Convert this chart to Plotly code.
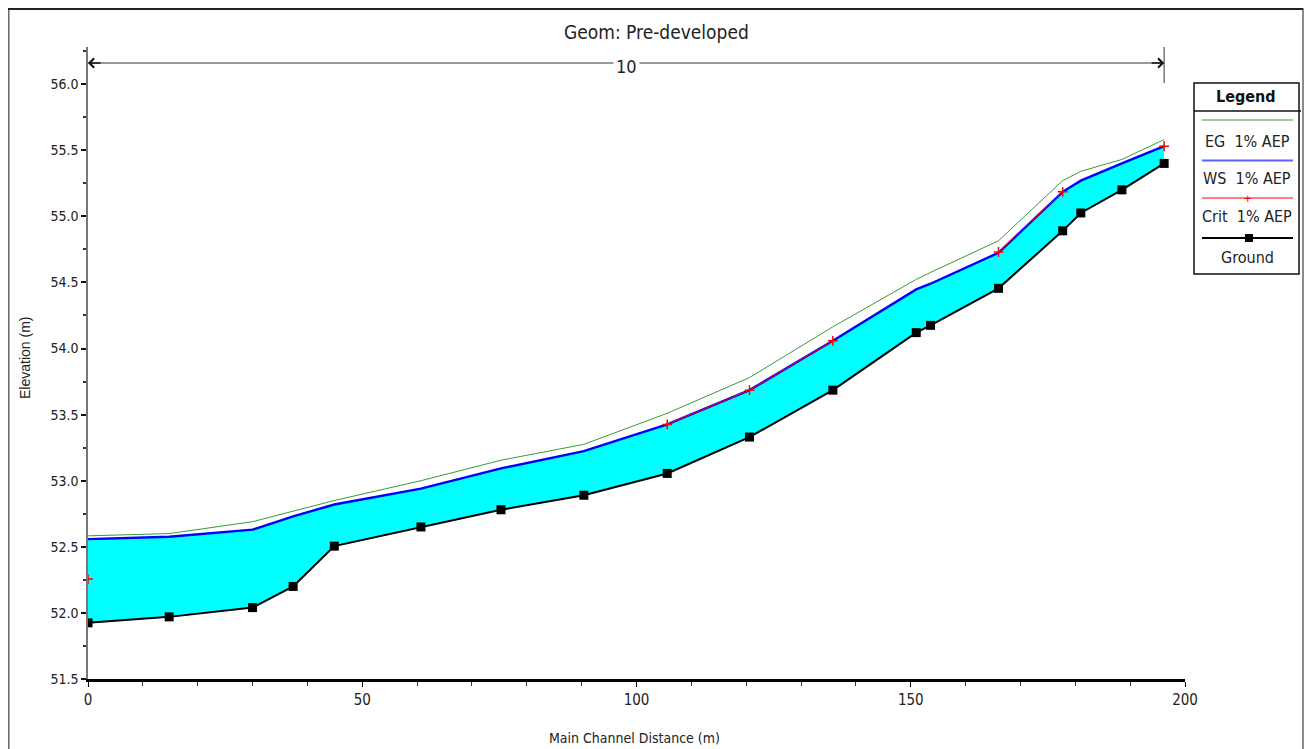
import plotly.graph_objects as go

# ---------------- data ----------------
stations = [0.0, 14.8, 30.0, 37.4, 44.9, 60.7, 75.3, 90.4, 105.6, 120.6,
            135.8, 151.0, 153.6, 166.0, 177.7, 181.0, 188.5, 196.2]
ground = [51.925, 51.97, 52.04, 52.20, 52.505, 52.65, 52.78, 52.89, 53.055, 53.33,
          53.685, 54.12, 54.175, 54.455, 54.89, 55.025, 55.20, 55.40]
ws_1pct = [52.558, 52.576, 52.63, 52.73, 52.82, 52.94, 53.093, 53.224, 53.426, 53.685,
           54.058, 54.447, 54.49, 54.724, 55.185, 55.27, 55.40, 55.53]
eg_1pct = [52.583, 52.60, 52.69, 52.77, 52.85, 53.00, 53.155, 53.275, 53.51, 53.78,
           54.164, 54.523, 54.575, 54.815, 55.27, 55.34, 55.43, 55.58]
crit_1pct = [52.256, None, None, None, None, None, None, None, 53.426, 53.685,
             54.058, None, None, 54.73, 55.185, None, None, 55.53]

title_text = "Geom: Pre-developed"
reach_label = "10"
legend_names = ["EG  1% AEP", "WS  1% AEP", "Crit  1% AEP", "Ground"]
x_title = "Main Channel Distance (m)"
y_title = "Elevation (m)"

# ---------------- layout geometry ----------------
# the page body has an 8px margin; screen px positions are read from the reference
OFF = 8
W, H = 1312 - OFF, 749 - OFF
PL, PR, PT, PB = 88, 1185, 47, 679          # plot area in screen px
X_RANGE = [0, 200]
Y_RANGE = [51.5, 51.5 + (PB - PT) / 132.2]

def px(p):
    return (p - PL) / (PR - PL)

def py(p):
    return (PB - p) / (PB - PT)

FONT = "DejaVu Sans Condensed, Liberation Sans Narrow, Arial Narrow, Liberation Sans, Arial, sans-serif"
FONT_REG = "Liberation Sans, Arial, sans-serif"

fig = go.Figure()

# fill between ground and water surface
fig.add_trace(go.Scatter(x=stations, y=ground, mode="lines",
                         line=dict(width=0, color="rgba(0,0,0,0)"),
                         showlegend=False, hoverinfo="skip"))
fig.add_trace(go.Scatter(x=stations, y=ws_1pct, mode="lines",
                         line=dict(width=0, color="rgba(0,0,0,0)"),
                         fill="tonexty", fillcolor="#00FFFF",
                         showlegend=False, hoverinfo="skip"))
# EG
fig.add_trace(go.Scatter(x=stations, y=eg_1pct, mode="lines",
                         line=dict(width=1, color="#3a9a3a"),
                         name=legend_names[0], showlegend=False))
# WS
fig.add_trace(go.Scatter(x=stations, y=ws_1pct, mode="lines",
                         line=dict(width=2.4, color="#0000FF"),
                         name=legend_names[1], showlegend=False))
# Crit
fig.add_trace(go.Scatter(x=stations, y=crit_1pct, mode="lines+markers",
                         line=dict(width=1, color="#FF0000"),
                         marker=dict(symbol="cross-thin", size=7,
                                     line=dict(width=1.5, color="#FF0000")),
                         connectgaps=False,
                         name=legend_names[2], showlegend=False))
# Ground
fig.add_trace(go.Scatter(x=stations, y=ground, mode="lines+markers",
                         line=dict(width=2, color="#000000"),
                         marker=dict(symbol="square", size=9, color="#000000"),
                         name=legend_names[3], showlegend=False))

shapes = []
annotations = []

def text_at(x, y, text, size=14, font=FONT, color="#222222", **kw):
    d = dict(x=x, y=y, xref="paper", yref="paper", text=text, showarrow=False,
             xanchor="center", yanchor="middle",
             font=dict(family=font, size=size, color=color))
    d.update(kw)
    annotations.append(d)

# outer frame
shapes.append(dict(type="rect", xref="paper", yref="paper",
                   x0=px(8.8), x1=px(1303), y0=py(760), y1=py(9),
                   line=dict(color="#666666", width=1.5)))
shapes.append(dict(type="line", xref="paper", yref="paper",
                   x0=px(8), x1=px(1303), y0=py(9), y1=py(9),
                   line=dict(color="#222222", width=2)))

# reach arrow
y_arrow = py(63)
shapes.append(dict(type="line", xref="x", yref="paper",
                   x0=stations[0], x1=stations[-1], y0=y_arrow, y1=y_arrow,
                   line=dict(color="#777777", width=1.5)))
shapes.append(dict(type="line", xref="x", yref="paper",
                   x0=stations[-1], x1=stations[-1], y0=py(83), y1=py(47),
                   line=dict(color="#555555", width=1.2)))
annotations.append(dict(x=stations[0], y=y_arrow, xref="x", yref="paper",
                        ax=14, ay=0, axref="pixel", ayref="pixel", text="",
                        showarrow=True, arrowhead=4, arrowsize=1.2,
                        arrowwidth=1.5, arrowcolor="#111111"))
annotations.append(dict(x=stations[-1], y=y_arrow, xref="x", yref="paper",
                        ax=-14, ay=0, axref="pixel", ayref="pixel", text="",
                        showarrow=True, arrowhead=4, arrowsize=1.2,
                        arrowwidth=1.5, arrowcolor="#111111"))
annotations.append(dict(x=(stations[0] + stations[-1]) / 2, y=py(66),
                        xref="x", yref="paper", text=reach_label,
                        showarrow=False, bgcolor="white",
                        xanchor="center", yanchor="middle",
                        font=dict(family=FONT, size=18, color="#222222"),
                        borderpad=2))

# title and axis titles
text_at(px(656), py(32), title_text, size=19)
text_at(px(634), py(738), x_title, size=14)
text_at(px(25), py(358), y_title, size=14, font=FONT_REG, textangle=-90)

# legend box
LX0, LX1, LY0, LY1 = 1194, 1299, 83, 274
shapes.append(dict(type="rect", xref="paper", yref="paper",
                   x0=px(LX0), x1=px(LX1), y0=py(LY1), y1=py(LY0),
                   line=dict(color="#111111", width=1.5), fillcolor="white"))
shapes.append(dict(type="line", xref="paper", yref="paper",
                   x0=px(LX0), x1=px(1301), y0=py(111), y1=py(111),
                   line=dict(color="#111111", width=1.5)))
text_at(px(1246), py(97), "<b>Legend</b>", size=16, color="#111111")
row_lines = [120, 160.5, 198, 238]
row_texts = [141, 178, 216.5, 257]
row_colors = ["#3a9a3a", "#6060ff", "#FF0000", "#000000"]
row_widths = [1.2, 2, 1.2, 2]
for i in range(4):
    shapes.append(dict(type="line", xref="paper", yref="paper",
                       x0=px(1202), x1=px(1293), y0=py(row_lines[i]), y1=py(row_lines[i]),
                       line=dict(color=row_colors[i], width=row_widths[i])))
    text_at(px(1247), py(row_texts[i]), legend_names[i], size=16)
# legend markers
text_at(px(1248), py(row_lines[2] + 0.5), "+", size=13, font=FONT_REG, color="#FF0000")
shapes.append(dict(type="rect", xref="paper", yref="paper",
                   x0=px(1245), x1=px(1253), y0=py(row_lines[3] + 4), y1=py(row_lines[3] - 4),
                   line=dict(width=0), fillcolor="#000000"))

fig.update_layout(
    width=W, height=H,
    margin=dict(l=PL - OFF, r=(W + OFF) - PR, t=PT - OFF, b=(H + OFF) - PB, autoexpand=False),
    paper_bgcolor="white", plot_bgcolor="white",
    showlegend=False,
    shapes=shapes, annotations=annotations,
    font=dict(family=FONT, size=14, color="#222222"),
)
fig.update_xaxes(range=X_RANGE, dtick=50, tick0=0, showgrid=False, zeroline=False,
                 showline=True, linecolor="#000000", linewidth=2.5,
                 ticks="outside", ticklen=5, tickwidth=1.2, tickcolor="#000000",
                 minor=dict(dtick=10, ticks="outside", ticklen=4, tickcolor="#333333", showgrid=False),
                 tickfont=dict(family=FONT, size=15, color="#222222"))
fig.update_yaxes(range=Y_RANGE, dtick=0.5, tick0=51.5, tickformat=".1f", showgrid=False,
                 zeroline=False, showline=True, linecolor="#777777", linewidth=1.5,
                 ticks="outside", ticklen=5, tickwidth=1.5, tickcolor="#111111",
                 minor=dict(dtick=0.25, ticks="outside", ticklen=3, tickcolor="#333333", showgrid=False),
                 tickfont=dict(family=FONT, size=14, color="#222222"))

fig.write_html("out.html")
